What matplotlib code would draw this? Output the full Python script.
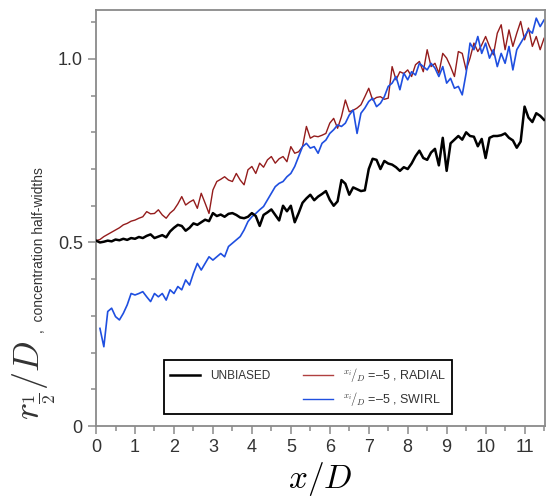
import matplotlib
matplotlib.use('Agg')
import matplotlib.pyplot as plt
from matplotlib.ticker import MultipleLocator
from matplotlib.lines import Line2D
import numpy as np

plt.rcParams['font.family'] = ['Liberation Sans', 'DejaVu Sans']
plt.rcParams['mathtext.fontset'] = 'cm'

# sampling positions along x/D
x_main = np.round(np.arange(0.0, 11.55, 0.1), 1)
x_swirl = np.round(np.arange(0.1, 11.55, 0.1), 1)

unbiased = [
    0.505, 0.500, 0.502, 0.505, 0.503, 0.508, 0.506, 0.510, 0.507, 0.512,
    0.510, 0.515, 0.512, 0.518, 0.522, 0.512, 0.516, 0.520, 0.514, 0.530,
    0.540, 0.548, 0.545, 0.532, 0.540, 0.552, 0.548, 0.555, 0.562, 0.558,
    0.580, 0.572, 0.576, 0.570, 0.578, 0.580, 0.575, 0.568, 0.566, 0.570,
    0.580, 0.572, 0.545, 0.575, 0.582, 0.590, 0.575, 0.560, 0.600, 0.585,
    0.600, 0.555, 0.580, 0.608, 0.620, 0.630, 0.615, 0.625, 0.632, 0.640,
    0.616, 0.600, 0.612, 0.670, 0.660, 0.630, 0.650, 0.645, 0.640, 0.642,
    0.700, 0.728, 0.725, 0.700, 0.722, 0.715, 0.712, 0.705, 0.695, 0.705,
    0.700, 0.715, 0.735, 0.750, 0.730, 0.725, 0.745, 0.755, 0.710, 0.785,
    0.695, 0.770, 0.780, 0.790, 0.780, 0.800, 0.790, 0.788, 0.762, 0.782,
    0.730, 0.785, 0.790, 0.790, 0.792, 0.797, 0.785, 0.778, 0.758, 0.775,
    0.870, 0.840, 0.828, 0.852, 0.845, 0.834,
]

radial = [
    0.505, 0.508, 0.516, 0.522, 0.528, 0.534, 0.540, 0.548, 0.552, 0.558,
    0.561, 0.566, 0.570, 0.584, 0.578, 0.579, 0.589, 0.575, 0.566, 0.580,
    0.589, 0.605, 0.625, 0.602, 0.610, 0.616, 0.593, 0.634, 0.607, 0.579,
    0.643, 0.666, 0.672, 0.679, 0.670, 0.666, 0.688, 0.670, 0.657, 0.698,
    0.707, 0.688, 0.716, 0.705, 0.725, 0.734, 0.716, 0.728, 0.734, 0.720,
    0.761, 0.743, 0.747, 0.761, 0.816, 0.784, 0.790, 0.788, 0.792, 0.797,
    0.825, 0.838, 0.811, 0.843, 0.888, 0.856, 0.860, 0.866, 0.875, 0.897,
    0.920, 0.888, 0.895, 0.897, 0.890, 0.893, 0.979, 0.943, 0.965, 0.960,
    0.970, 0.952, 0.984, 0.993, 0.965, 1.025, 0.979, 0.988, 0.961, 1.015,
    1.002, 0.979, 0.952, 1.020, 1.015, 0.970, 1.002, 1.043, 1.020, 1.038,
    1.061, 1.034, 1.011, 1.070, 1.093, 1.025, 1.079, 1.034, 1.070, 1.102,
    1.052, 1.084, 1.034, 1.061, 1.025, 1.056,
]

swirl = [
    0.266, 0.216, 0.312, 0.321, 0.298, 0.289, 0.307, 0.330, 0.361,
    0.357, 0.361, 0.366, 0.352, 0.339, 0.361, 0.352, 0.361, 0.343, 0.371,
    0.361, 0.380, 0.371, 0.398, 0.384, 0.416, 0.443, 0.425, 0.443, 0.461,
    0.452, 0.461, 0.470, 0.461, 0.489, 0.498, 0.507, 0.516, 0.534, 0.557,
    0.570, 0.579, 0.589, 0.598, 0.616, 0.634, 0.652, 0.661, 0.666, 0.679,
    0.688, 0.707, 0.734, 0.761, 0.770, 0.757, 0.761, 0.743, 0.770, 0.779,
    0.797, 0.807, 0.820, 0.816, 0.825, 0.847, 0.861, 0.797, 0.852, 0.866,
    0.884, 0.893, 0.870, 0.879, 0.897, 0.925, 0.934, 0.952, 0.916, 0.961,
    0.943, 0.965, 0.956, 0.988, 0.979, 0.970, 0.988, 0.975, 0.952, 0.979,
    0.934, 0.947, 0.920, 0.925, 0.902, 0.961, 1.043, 1.025, 1.061, 1.015,
    1.043, 1.002, 1.025, 0.979, 1.015, 0.988, 1.034, 0.970, 1.025, 1.043,
    1.061, 1.079, 1.070, 1.111, 1.088, 1.106,
]

grey = '#8a8a8a'
txt = '#333333'

fig = plt.figure(figsize=(5.52, 5.03), dpi=100)
ax = fig.add_axes([0.174, 0.153, 0.813, 0.827])

ax.plot(x_main, unbiased, color='black', lw=1.8, zorder=3)
ax.plot(x_main, radial, color='#941c1c', lw=1.0, zorder=2)
ax.plot(x_swirl, swirl, color='#1f4fe0', lw=1.2, zorder=2)

ax.set_xlim(0, 11.52)
ax.set_ylim(0, 1.133)
ax.xaxis.set_major_locator(MultipleLocator(1))
ax.xaxis.set_minor_locator(MultipleLocator(0.5))
ax.yaxis.set_minor_locator(MultipleLocator(0.1))
ax.set_yticks([0, 0.5, 1.0])
ax.set_yticklabels(['0', '0.5', '1.0'])

for s in ax.spines.values():
    s.set_color(grey)
    s.set_linewidth(1.3)
ax.tick_params(which='both', direction='out', color=grey, width=1.1,
               labelcolor=txt, labelsize=13)
ax.tick_params(which='major', length=6)
ax.tick_params(which='minor', length=3.5)

ax.set_xlabel(r'$x/D$', fontsize=24, labelpad=3)

fig.text(0.062, 0.245, r'$r_{\frac{1}{2}}/D$', rotation=90, fontsize=26,
         ha='center', va='center', color=txt)
fig.text(0.070, 0.338, ',  concentration half-widths', rotation=90,
         fontsize=10, ha='center', va='bottom', color=txt)

blank = Line2D([], [], color='none')
handles = [Line2D([], [], color='black', lw=1.8), blank,
           Line2D([], [], color='#b04040', lw=1.0),
           Line2D([], [], color='#2050e0', lw=1.0)]
labels = ['UNBIASED', ' ',
          r'$^{x_i}\!/_{D}$ =–5 , RADIAL',
          r'$^{x_i}\!/_{D}$ =–5 , SWIRL']
leg = ax.legend(handles, labels, ncol=2, loc='lower left',
                bbox_to_anchor=(0.137, 0.013), fontsize=9,
                fancybox=False, framealpha=1, edgecolor='black',
                handlelength=2.4, columnspacing=2.6, borderpad=0.5,
                labelspacing=0.5)
leg.get_frame().set_linewidth(1.3)
for t in leg.get_texts():
    t.set_color(txt)
leg.get_texts()[0].set_fontsize(8.5)

fig.savefig('out.png', dpi=100)
